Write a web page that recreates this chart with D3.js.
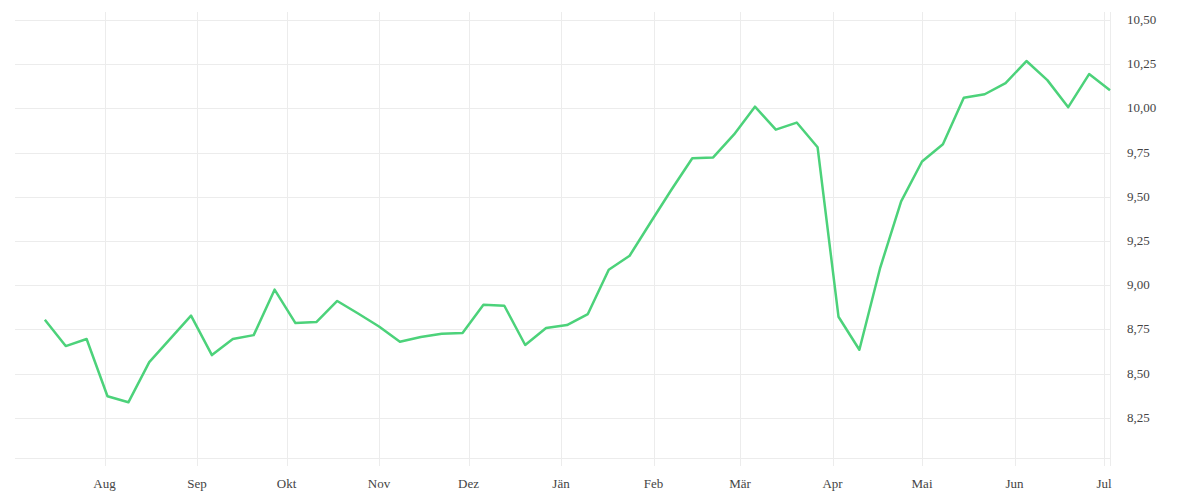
<!DOCTYPE html>
<html><head><meta charset="utf-8">
<script src="https://cdn.jsdelivr.net/npm/d3@7"></script>
<style>body{margin:0;background:#fff}svg{display:block}</style>
</head><body>
<svg id="chart" width="1200" height="500"></svg>
<script>
// weekly values, first week starting 2019-07-12
const startDate = new Date(2019, 6, 12);
const values = [8.805, 8.656, 8.696, 8.372, 8.338, 8.565, 8.697, 8.828, 8.605, 8.696,
  8.718, 8.975, 8.786, 8.792, 8.911, 8.84, 8.767, 8.68, 8.707, 8.726,
  8.73, 8.89, 8.884, 8.662, 8.758, 8.775, 8.837, 9.088, 9.167, 9.355,
  9.54, 9.718, 9.723, 9.853, 10.01, 9.88, 9.92, 9.78, 8.822, 8.635,
  9.1, 9.474, 9.70, 9.797, 10.06, 10.08, 10.143, 10.268, 10.16, 10.007,
  10.194, 10.103];
const yTicks = [8.25, 8.5, 8.75, 9.0, 9.25, 9.5, 9.75, 10.0, 10.25, 10.5];
const monthLabels = ['Aug', 'Sep', 'Okt', 'Nov', 'Dez', 'Jän', 'Feb', 'Mär', 'Apr', 'Mai', 'Jun', 'Jul'];
const monthDates = monthLabels.map((m, i) => new Date(2019, 7 + i, 1));

const data = values.map((v, i) => ({ date: d3.timeDay.offset(startDate, i * 7), value: v }));

const svg = d3.select('#chart');
const plotLeft = 15, plotRight = 1110, plotTop = 20, plotBottom = 458;

const x = d3.scaleTime()
    .domain([new Date(2019, 6, 2), new Date(2020, 6, 3)])
    .range([plotLeft, plotRight]);
const y = d3.scaleLinear()
    .domain([8.023, 10.5])
    .range([plotBottom, plotTop]);

const grid = svg.append('g').attr('stroke', '#ececec').attr('stroke-width', 1);

// horizontal gridlines
grid.selectAll('.h').data([8.023].concat(yTicks)).enter().append('line')
    .attr('x1', plotLeft).attr('x2', plotRight)
    .attr('y1', d => Math.round(y(d)) + 0.5).attr('y2', d => Math.round(y(d)) + 0.5);

// vertical gridlines
grid.selectAll('.v').data(monthDates).enter().append('line')
    .attr('x1', d => Math.round(x(d)) + 0.5).attr('x2', d => Math.round(x(d)) + 0.5)
    .attr('y1', 12).attr('y2', 466);
grid.append('line').attr('x1', plotRight + 0.5).attr('x2', plotRight + 0.5).attr('y1', 12).attr('y2', 466);

const font = '"Liberation Serif", "DejaVu Serif", serif';

svg.append('g').selectAll('text').data(yTicks).enter().append('text')
    .attr('x', 1127).attr('y', d => y(d) + 4)
    .attr('font-family', font).attr('font-size', 13).attr('fill', '#444')
    .text(d => d3.format('.2f')(d).replace('.', ','));

svg.append('g').selectAll('text').data(monthDates).enter().append('text')
    .attr('x', d => x(d)).attr('y', 488).attr('text-anchor', 'middle')
    .attr('font-family', font).attr('font-size', 13).attr('fill', '#444')
    .text((d, i) => monthLabels[i]);

const line = d3.line().x(d => x(d.date)).y(d => y(d.value));
svg.append('path').datum(data)
    .attr('d', line)
    .attr('fill', 'none')
    .attr('stroke', '#4cd27a')
    .attr('stroke-width', 2.5)
    .attr('stroke-linejoin', 'round');
</script>
</body></html>
